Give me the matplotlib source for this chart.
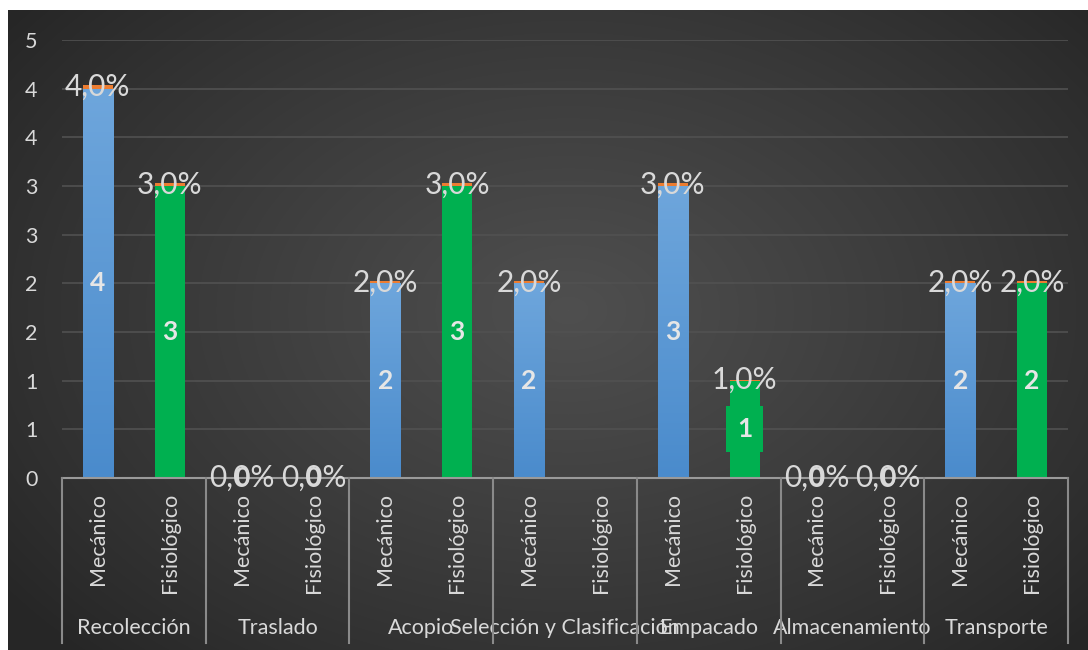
import matplotlib
matplotlib.use("Agg")
from matplotlib import pyplot as plt
from matplotlib.colors import LinearSegmentedColormap
import matplotlib.transforms as mtransforms
import numpy as np

plt.rcParams['font.family'] = ['Lato', 'DejaVu Sans']

# datos
etapas = ["Recolección", "Traslado", "Acopio", "Selección y Clasificación",
          "Empacado", "Almacenamiento", "Transporte"]
tipos = ["Mecánico", "Fisiológico"]
mecanico = [4, 0, 2, 2, 3, 0, 2]
fisiologico = [3, 0, 3, np.nan, 1, 0, 2]
mecanico_pct = [4.0, 0.0, 2.0, 2.0, 3.0, 0.0, 2.0]
fisiologico_pct = [3.0, 0.0, 3.0, np.nan, 1.0, 0.0, 2.0]
yticks = np.arange(0, 5, 0.5)

AZUL_ARRIBA = "#6EA6DC"
AZUL_ABAJO = "#4A8BCC"
VERDE = "#00B050"
NARANJA = "#ED7D31"
GRIS_TXT = "#D9D9D9"

W, H = 1088, 650
fig = plt.figure(figsize=(W / 100, H / 100), dpi=100)
fig.patch.set_facecolor("white")

# fondo con degradado radial
bg = fig.add_axes([8 / W, 0, (W - 8) / W, (H - 10) / H])
bg.set_axis_off()
yy, xx = np.mgrid[0:640, 0:1080]
r = np.sqrt(((xx - 560) / 700.0) ** 2 + ((yy - 300) / 480.0) ** 2)
r = np.clip(r, 0, 1)
v = 0.15 + (0.31 - 0.15) * (1 - r) ** 0.9
bg.imshow(np.dstack([v, v, v]), aspect="auto", extent=(0, 1, 0, 1))
bg.set_xlim(0, 1)
bg.set_ylim(0, 1)

ax = fig.add_axes([62 / W, (H - 478) / H, 1006 / W, 438 / H])
ax.patch.set_alpha(0)

n = len(etapas)
x_mec = np.arange(n) * 2
x_fis = np.arange(n) * 2 + 1
ancho = 0.42

mec = np.array(mecanico, dtype=float)
fis = np.array(fisiologico, dtype=float)
mec_p = np.array(mecanico_pct, dtype=float)
fis_p = np.array(fisiologico_pct, dtype=float)

# rejilla
for t in yticks[1:]:
    ax.axhline(t, color="#515151", lw=1.2, zorder=0)

cmap_azul = LinearSegmentedColormap.from_list("azul", [AZUL_ABAJO, AZUL_ARRIBA])
grad = np.linspace(0, 1, 256).reshape(-1, 1)

barras_m = ax.bar(x_mec, mec, width=ancho, color=AZUL_ABAJO, zorder=2)
for b in barras_m:
    if b.get_height() > 0:
        im = ax.imshow(grad, cmap=cmap_azul, origin="lower", aspect="auto",
                       extent=(b.get_x(), b.get_x() + b.get_width(), 0, b.get_height()),
                       zorder=2.1)
        im.set_clip_path(b)
ax.bar(x_fis, fis, width=ancho, color=VERDE, zorder=2)

# serie de porcentaje apilada encima
ax.bar(x_mec, mec_p / 100, bottom=mec, width=ancho, color=NARANJA, zorder=3)
ax.bar(x_fis, fis_p / 100, bottom=fis, width=ancho, color=NARANJA, zorder=3)

ax.set_xlim(-0.5, 2 * n - 0.5)
ax.set_ylim(0, 4.5)


def fmt_pct(p):
    return ("%.1f%%" % p).replace(".", ",")


for xs, vals, pcts, caja in [(x_mec, mec, mec_p, None), (x_fis, fis, fis_p, VERDE)]:
    for x, val, p in zip(xs, vals, pcts):
        if np.isnan(val):
            continue
        ax.text(x, val + p / 200, fmt_pct(p), ha="center", va="center",
                color=GRIS_TXT, fontsize=21.5, zorder=5, clip_on=False)
        bbox = None
        if caja is not None and val == 1:
            bbox = dict(boxstyle="square,pad=0.42", fc=caja, ec="none")
        ax.text(x, val / 2, "%d" % val, ha="center", va="center",
                color=GRIS_TXT if val == 0 else "#E6E6E6", fontsize=19,
                fontweight="bold", zorder=6, bbox=bbox, clip_on=False)

# ejes
for s in ax.spines.values():
    s.set_visible(False)
ax.axhline(0, color="#9A9A9A", lw=1.5, zorder=4, clip_on=False)
ax.set_yticks(yticks)
ax.set_yticklabels([str(int(np.floor(t + 0.5))) for t in yticks])
ax.tick_params(axis="y", length=0, pad=22, labelcolor=GRIS_TXT, labelsize=15.5)
for lbl in ax.get_yticklabels():
    lbl.set_horizontalalignment("center")
ax.set_xticks([])

# etiquetas de dos niveles
trans = mtransforms.blended_transform_factory(ax.transData, ax.transAxes)
px = 1 / 438
for i in range(n):
    for x, t in zip([x_mec[i], x_fis[i]], tipos):
        ax.text(x, -15 * px, t, rotation=90, ha="center", va="top",
                color=GRIS_TXT, fontsize=15.5, transform=trans)
    ax.text(2 * i + 0.5, -150 * px, etapas[i], ha="center", va="center",
            color=GRIS_TXT, fontsize=15.5, transform=trans)
for k in range(n + 1):
    ax.plot([2 * k - 0.5, 2 * k - 0.5], [0, -165 * px], color="#8A8A8A",
            lw=1.5, transform=trans, clip_on=False, zorder=4)

fig.savefig("out.png", dpi=100)
